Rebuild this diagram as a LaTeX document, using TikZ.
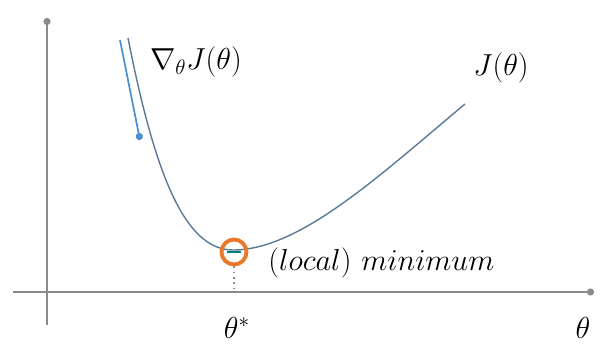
\documentclass[tikz,border=0pt]{standalone}
\usetikzlibrary{arrows.meta}
\definecolor{axisgray}{HTML}{8A8A8A}
\definecolor{curveblue}{HTML}{5A7A9A}
\definecolor{gradblue}{HTML}{4A8FD0}
\definecolor{minorange}{HTML}{E8782A}
\tikzset{
  axis/.style={draw=axisgray, line width=1.2pt, -{Circle[length=4pt]}},
  lbl/.style={font=\fontsize{18}{20}\selectfont, inner sep=0pt},
}
\begin{document}
\begin{tikzpicture}[x=0.02cm,y=-0.02cm]
\useasboundingbox (0,0) rectangle (600,345);
% axes
\coordinate (ybot) at (47,325);
\coordinate (ytop) at (47,18);
\coordinate (xl) at (13,292);
\coordinate (xr) at (594,292);
\draw[axis] (ybot) -- (ytop);
\draw[axis] (xl) -- (xr);
% curve
\coordinate (c0) at (128,38);
\coordinate (cmin) at (233,250);
\coordinate (c1) at (465,104);
\draw[curveblue, line width=0.8pt] (c0) .. controls (155,175) and (185,250) .. (cmin) .. controls (300,250) and (380,175) .. (c1);
% gradient arrow
\coordinate (g0) at (120,40);
\coordinate (g1) at (140,140);
\draw[gradblue, line width=1pt, -{Circle[length=4pt]}] (g0) -- (g1);
% minimum marker
\node[draw=minorange, circle, line width=2.2pt, minimum size=0.5cm, inner sep=0pt] (mark) at (234,252) {};
\coordinate (tick) at (234,292);
\draw[axisgray, dotted, line width=1pt] (mark.south) -- (tick);
\draw[teal, line width=0.8pt] (227,252) -- (241,252);
% labels
\node[lbl] (grad) at (196,62) {$\nabla_\theta J(\theta)$};
\node[lbl] (J) at (501,68) {$J(\theta)$};
\node[lbl, anchor=west, font=\fontsize{18.5}{20}\selectfont] (lm) at (268,263) {$(local)\ minimum$};
\node[lbl] (ts) at (237,328) {$\theta^*$};
\node[lbl] (th) at (583,328) {$\theta$};
\end{tikzpicture}
\end{document}
